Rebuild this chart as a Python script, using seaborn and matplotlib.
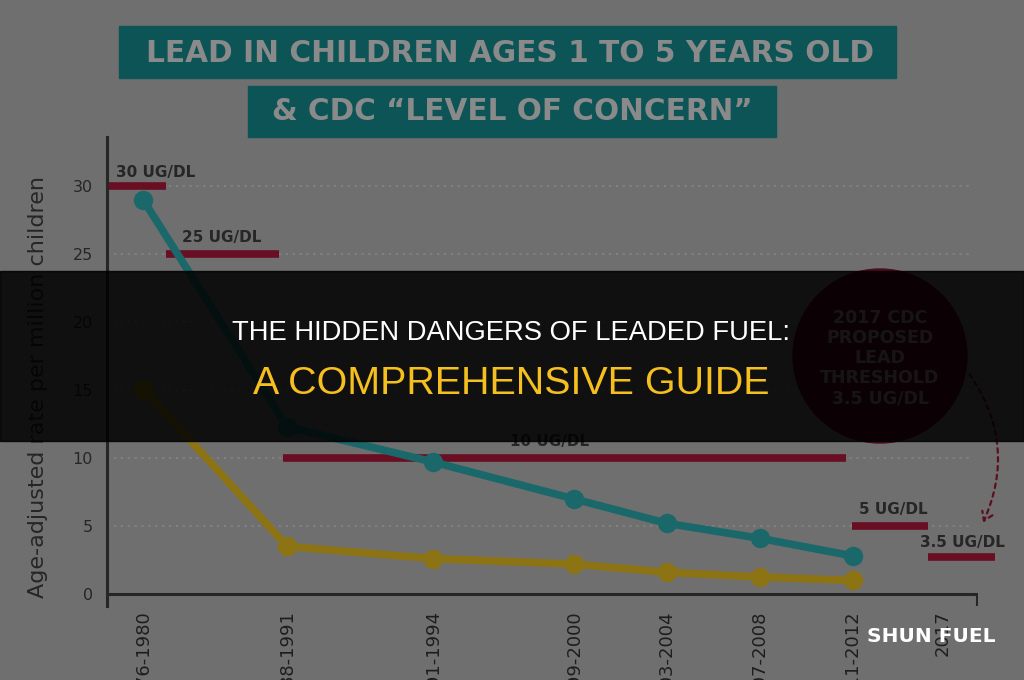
import matplotlib
matplotlib.use("Agg")
import matplotlib.pyplot as plt
from matplotlib.patches import Rectangle, Circle, FancyArrowPatch
import numpy as np
import pandas as pd
import seaborn as sns

# ---------------- data ----------------
periods = ["1976-1980", "1988-1991", "1991-1994", "1999-2000",
           "2003-2004", "2007-2008", "2011-2012", "2017"]
period_slot = [0.0, 1.55, 3.12, 4.63, 5.63, 6.63, 7.63, 8.6]

teal_rate = [29.0, 12.3, 9.7, 7.0, 5.2, 4.1, 2.8]
gold_rate = [15.1, 3.5, 2.6, 2.2, 1.6, 1.25, 1.0]

thr_labels = ["30 UG/DL", "25 UG/DL", "10 UG/DL", "5 UG/DL", "3.5 UG/DL"]
thr_level = [30, 25, 10, 5, 2.75]
thr_start = [-0.387, 0.247, 1.505, 7.624, 8.441]
thr_end = [0.247, 1.462, 7.559, 8.441, 9.16]
thr_label_x = [-0.29, 0.42, 3.95, 7.70, 8.355]
thr_label_y = [31.0, 26.2, 11.2, 6.2, 3.75]

yticks = [0, 5, 10, 15, 20, 25, 30]

title_line1 = "LEAD IN CHILDREN AGES 1 TO 5 YEARS OLD"
title_line2 = "& CDC \u201cLEVEL OF CONCERN\u201d"
circle_text = "2017 CDC\nPROPOSED\nLEAD\nTHRESHOLD\n3.5 UG/DL"
banner1 = "THE HIDDEN DANGERS OF LEADED FUEL:"
banner2 = "A COMPREHENSIVE GUIDE"
watermark = "SHUN FUEL"

# ---------------- style ----------------
BG = "#6f6f6f"
TEAL = "#1b686b"
GOLD = "#8c7314"
RED = "#690f23"
DARK = "#262626"
GRID = "#868686"

sns.set_theme(style="white")
plt.rcParams["font.family"] = ["DejaVu Sans"]

W, H = 1024, 680
fig = plt.figure(figsize=(W / 100, H / 100), dpi=100, facecolor=BG)

def fx(px):
    return px / W

def fy(py):
    return 1 - py / H

# axes: x pixels 107..978, y pixels 137..606
ax = fig.add_axes([fx(107), fy(606), (978 - 107) / W, (606 - 137) / H])
ax.set_facecolor("none")
ax.set_xlim(-0.387, 8.978)
ax.set_ylim(-0.882, 33.6)

# gridlines
ax.hlines([5, 10, 15, 20, 25, 30], -0.387, 8.91, colors=GRID,
          linestyles=(0, (1.5, 3)), linewidth=1.1, zorder=1)

# threshold bars
for lv, s, e in zip(thr_level, thr_start, thr_end):
    ax.plot([s, e], [lv, lv], color=RED, linewidth=5.5, solid_capstyle="butt",
            zorder=2, clip_on=False)
for lab, x, y in zip(thr_labels, thr_label_x, thr_label_y):
    ax.text(x, y, lab, fontsize=11, fontweight="bold", color=DARK,
            ha="left", va="center", zorder=3, clip_on=False)

# series
n = len(teal_rate)
df = pd.DataFrame({
    "slot": period_slot[:n] * 2,
    "rate": teal_rate + gold_rate,
    "group": ["teal"] * n + ["gold"] * n,
})
sns.lineplot(data=df, x="slot", y="rate", hue="group",
             palette={"teal": TEAL, "gold": GOLD}, marker="o",
             markersize=14, markeredgewidth=0, linewidth=5.5,
             legend=False, sort=False, ax=ax, zorder=4)

# axes lines
for sp in ["top", "right", "bottom"]:
    ax.spines[sp].set_visible(False)
ax.spines["left"].set_color(DARK)
ax.spines["left"].set_linewidth(2.2)
ax.axhline(0, color=DARK, linewidth=2.2, zorder=3)
ax.axvline(8.962, ymin=0, ymax=0.882 / 34.482, color=DARK, linewidth=2.2)

ax.set_yticks(yticks)
ax.set_yticklabels([str(v) for v in yticks], fontsize=11.5, color=DARK)
ax.tick_params(axis="y", length=0, pad=10)
ax.set_xticks(period_slot)
ax.set_xticklabels(periods, rotation=90, va="top", ha="center",
                   fontsize=13, color="#1e1e1e")
ax.tick_params(axis="x", length=0, pad=3)
ax.set_xlabel("")
ax.set_ylabel("")
ax.grid(False)

renderer = fig.canvas.get_renderer()

def fit(t, target, use_height=False):
    bb = t.get_window_extent(renderer)
    cur = bb.height if use_height else bb.width
    t.set_fontsize(t.get_fontsize() * target / cur)

ylab = fig.text(fx(38), fy(387), "Age-adjusted rate per million children",
                rotation=90, ha="center", va="center", color=DARK, fontsize=15)
fit(ylab, 421, use_height=True)

# title boxes
fig.patches.append(Rectangle((fx(119), fy(78)), (896 - 119) / W, 52 / H,
                             transform=fig.transFigure, color="#0d5456", zorder=1))
fig.patches.append(Rectangle((fx(248), fy(137)), (776 - 248) / W, 51 / H,
                             transform=fig.transFigure, color="#0d5456", zorder=1))
t1 = fig.text(fx(510), fy(53), title_line1, ha="center", va="center",
              fontweight="bold", color="#8a8a8a", fontsize=20, zorder=2)
fit(t1, 726)
t2 = fig.text(fx(512), fy(112), title_line2, ha="center", va="center",
              fontweight="bold", color="#8a8a8a", fontsize=20, zorder=2)
fit(t2, 479)

# proposed threshold circle (under the banner)
circ = Circle((8.80, (H - 356) / 100), 0.87, transform=fig.dpi_scale_trans,
              color="#4e0b1c", zorder=5)
fig.patches.append(circ)
fig.text(fx(880), fy(358), circle_text, ha="center", va="center",
         fontsize=12.5, fontweight="bold", color="#9a8a8c",
         linespacing=1.15, zorder=6)

arrow = FancyArrowPatch((9.68, (H - 372) / 100), (9.82, (H - 525) / 100),
                        transform=fig.dpi_scale_trans,
                        connectionstyle="arc3,rad=-0.29",
                        arrowstyle="->,head_length=6,head_width=4",
                        linestyle=(0, (2, 2)), linewidth=1.6,
                        color="#5a1020", zorder=6)
fig.patches.append(arrow)

# dark banner overlay
fig.patches.append(Rectangle((0, fy(441)), 1, 170 / H, transform=fig.transFigure,
                             color="black", alpha=0.85, zorder=10))
b1 = fig.text(fx(511), fy(333), banner1, ha="center", va="center",
              color="white", fontsize=18, family="Liberation Sans", zorder=11)
fit(b1, 557)
b2 = fig.text(fx(511), fy(384), banner2, ha="center", va="center",
              color="#f5bf1f", fontsize=26, family="Liberation Sans", zorder=11)
fit(b2, 518)

wm = fig.text(fx(931), fy(637), watermark, ha="center", va="center",
              color="white", fontweight="bold", fontsize=14, zorder=12)
fit(wm, 128)

fig.savefig("out.png", dpi=100, facecolor=BG)
